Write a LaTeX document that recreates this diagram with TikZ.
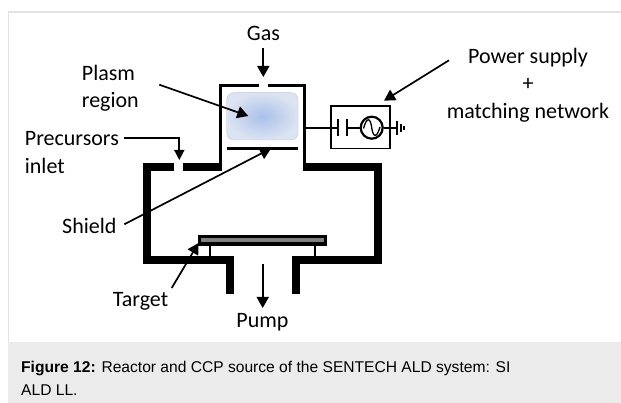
\documentclass[tikz,border=0pt]{standalone}
\usepackage{fontspec}
\setmainfont{Carlito}
\newfontfamily\capfont{Liberation Sans}
\usetikzlibrary{arrows.meta}
\definecolor{capbg}{HTML}{EBEBEB}
\definecolor{frameline}{HTML}{E2E2E2}
\definecolor{plasmaout}{HTML}{DCE3F2}
\definecolor{plasmain}{HTML}{A8C0E8}
\definecolor{plasmaedge}{HTML}{BCC8E0}
\definecolor{targetgray}{HTML}{808080}
\tikzset{
  wall/.style={line width=8pt,line cap=butt,line join=miter},
  thinwall/.style={line width=3pt,line cap=butt,line join=miter},
  lead/.style={line width=1.7pt,draw=black},
  pointer/.style={lead,-{Triangle[length=11pt,width=12pt]}},
  smallpointer/.style={lead,-{Triangle[length=10pt,width=10pt]}},
  label/.style={font=\fontsize{22}{27.4}\selectfont,text=black,inner sep=0pt,align=left},
  clabel/.style={font=\fontsize{22}{27.4}\selectfont,text=black,inner sep=0pt,align=center},
  slabel/.style={font=\fontsize{22}{27.4}\selectfont,text=black,inner sep=0pt},
  wire/.style={line width=1.8pt},
  captext/.style={anchor=base west,inner sep=0pt,font=\capfont\fontsize{15.6}{20}\selectfont,text=black},
}
\begin{document}
\begin{tikzpicture}[x=1pt,y=-1pt]
\useasboundingbox (0,0) rectangle (621,403);
\fill[white] (0,0) rectangle (621,403);
% frame and caption
\draw[frameline,line width=1.2pt] (621,12) -- (8.5,12) -- (8.5,343);
\fill[capbg] (8,342) rectangle (621,403);
\node[captext] (cap1) at (21,372)
  {\textbf{Figure 12:} Reactor and CCP source of the SENTECH ALD system: SI};
\node[captext] (cap2) at (21,395) {ALD LL.};
% plasma
\shade[rounded corners=7pt,inner color=plasmain,outer color=plasmaout,draw=plasmaedge,line width=0.4pt]
  (226.7,92.7) rectangle (298,140);
% chamber
\draw[wall] (174.3,167.5) -- (147,167.5) -- (147,259.7) -- (230.3,259.7) -- (230.3,294);
\draw[wall] (295.5,294) -- (295.5,259.7) -- (378,259.7) -- (378,167.5) -- (303,167.5);
\draw[wall] (183.3,167.5) -- (221.7,167.5);
\draw[thinwall] (220.5,171) -- (220.5,85.8) -- (258.7,85.8);
\draw[thinwall] (267.7,85.8) -- (304.5,85.8) -- (304.5,171);
% shield
\draw[thinwall] (226.7,148.3) -- (298,148.3);
% target
\node[draw=black,line width=3.3pt,fill=targetgray,minimum width=126.3pt,minimum height=7.3pt,inner sep=0pt] (target) at (262.5,240.5) {};
\draw[wire] (209.7,245.7) -- (209.7,255.7);
\draw[wire] (315,245.7) -- (315,255.7);
% power box
\node[draw=black,line width=1.7pt,minimum width=59pt,minimum height=42.7pt,inner sep=0pt] (psbox) at (360.5,127.3) {};
\node[draw=black,line width=2.2pt,circle,minimum size=22pt,inner sep=0pt] (src) at (371.7,127.7) {};
\draw[line width=1.3pt] (363.5,128.5) .. controls (367,116) and (370.5,118) .. (371.7,127.7) .. controls (373,137) and (376.5,139) .. (380,127);
\coordinate (capa) at (338.3,127.7);
\coordinate (capb) at (346.7,127.7);
\coordinate (gnd) at (396.7,127.7);
\coordinate (wallr) at (306,127.7);
\draw[wire] (wallr) -- (capa);
\draw[wire] (capb) -- (src.west);
\draw[wire] (src.east) -- (gnd);
\draw[line width=2pt] (338.3,119) -- (338.3,135.7);
\draw[line width=2pt] (346.7,119) -- (346.7,135.7);
\draw[line width=1.7pt] (396.7,120.7) -- (396.7,134.7);
\draw[line width=1.7pt] (400.7,123.7) -- (400.7,131.7);
\draw[line width=1.7pt] (404,125.7) -- (404,129.7);
% labels
\node[slabel,anchor=base] (gas) at (263.5,41) {Gas};
\node[label,anchor=west] (plasm) at (81.7,88.5) {Plasm\\region};
\node[label,anchor=west] (prec) at (24.7,152.5) {Precursors\\inlet};
\node[clabel,anchor=center] (power) at (528,85) {Power supply\\+\\matching network};
\node[slabel,anchor=base west] (shield) at (62,234) {Shield};
\node[slabel,anchor=base west] (targetl) at (112.7,306.7) {Target};
\node[slabel,anchor=base] (pump) at (262.5,327.5) {Pump};
% pointers
\coordinate (gas0) at (263.3,48);
\coordinate (gastip) at (263.3,77);
\draw[pointer] (gas0) -- (gastip);
\coordinate (pl0) at (159.3,84.7);
\coordinate (pltip) at (248.3,116);
\draw[pointer] (pl0) -- (pltip);
\coordinate (pw0) at (449,60.3);
\coordinate (pwtip) at (384,100.7);
\draw[pointer] (pw0) -- (pwtip);
\coordinate (sh0) at (124.3,224.3);
\coordinate (shtip) at (271,148.5);
\draw[pointer] (sh0) -- (shtip);
\coordinate (ta0) at (171.7,288);
\coordinate (tatip) at (198.5,243);
\draw[pointer] (ta0) -- (tatip);
\coordinate (pu0) at (262.7,264);
\coordinate (putip) at (262.7,308);
\draw[pointer] (pu0) -- (putip);
\coordinate (pr0) at (124,137.7);
\coordinate (prc) at (179.3,137.7);
\coordinate (prtip) at (179.3,160);
\draw[smallpointer] (pr0) -- (prc) -- (prtip);
\end{tikzpicture}
\end{document}
